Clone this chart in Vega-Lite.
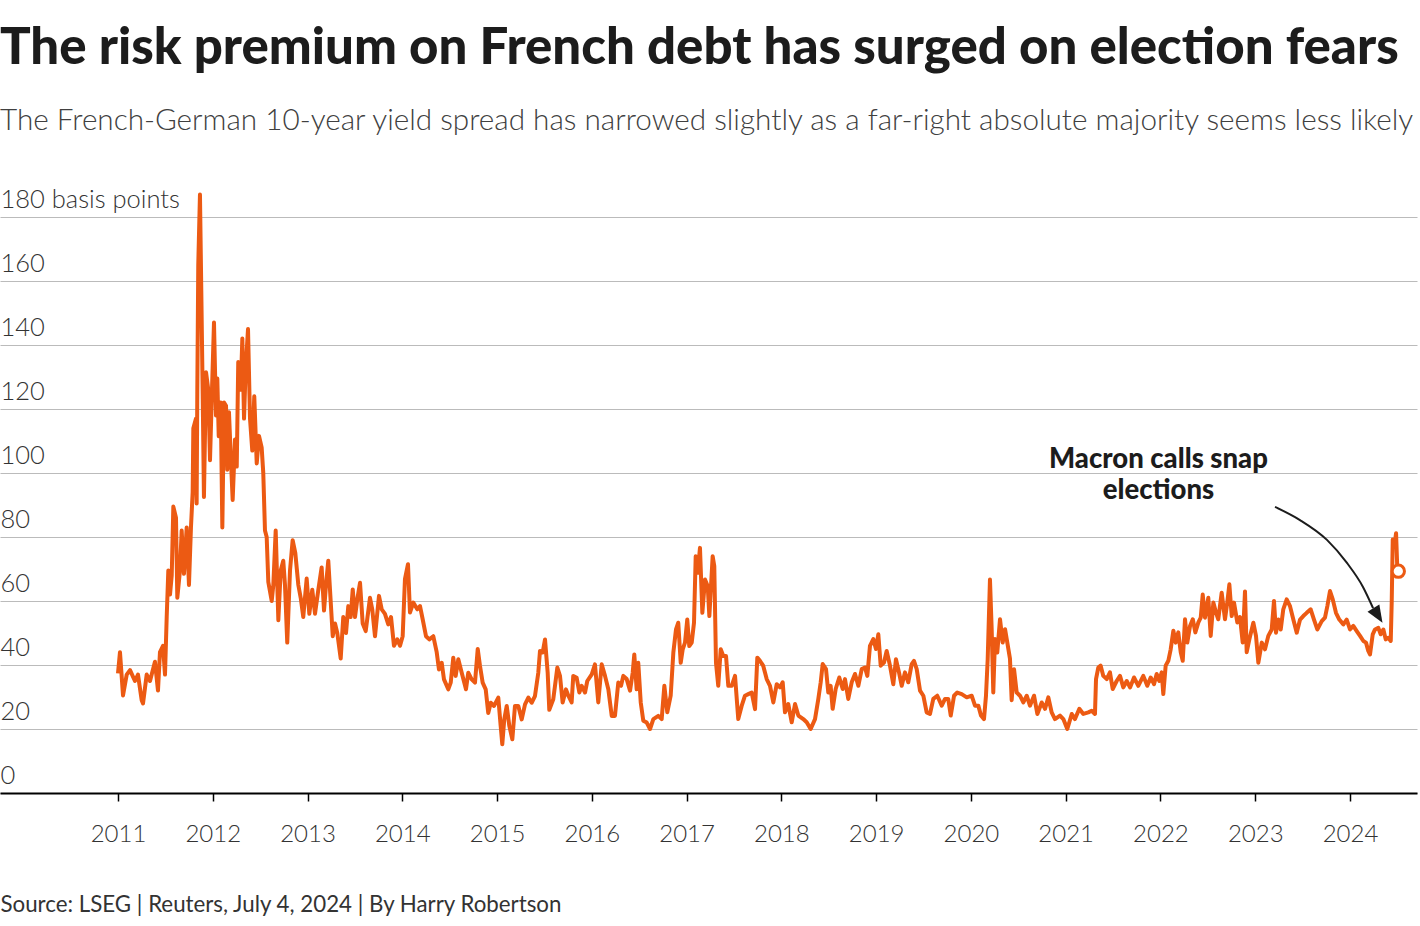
{
  "$schema": "https://vega.github.io/schema/vega-lite/v6.json",
  "width": 1417,
  "height": 576,
  "autosize": {"type": "none"},
  "padding": {"left": 0, "top": 217, "right": 3, "bottom": 133},
  "background": "white",
  "config": {"view": {"stroke": null}, "font": "Lato"},
  "title": {
    "text": "The risk premium on French debt has surged on election fears",
    "subtitle": "The French-German 10-year yield spread has narrowed slightly as a far-right absolute majority seems less likely",
    "anchor": "start",
    "frame": "group",
    "font": "Lato",
    "fontSize": 51,
    "fontWeight": 900,
    "color": "#1c1c1c",
    "subtitleFont": "Lato",
    "subtitleFontSize": 29.7,
    "subtitleFontWeight": 300,
    "subtitleColor": "#404040",
    "subtitlePadding": 32,
    "offset": 50
  },
  "datasets": {
    "spread": [
      {"year":2011.000,"bp":37.4},{"year":2011.021,"bp":44},{"year":2011.053,"bp":30.5},{"year":2011.092,"bp":37},{"year":2011.127,"bp":38.4},{"year":2011.179,"bp":35},{"year":2011.211,"bp":37},{"year":2011.250,"bp":29},{"year":2011.264,"bp":28},{"year":2011.303,"bp":37},{"year":2011.338,"bp":35},{"year":2011.390,"bp":41},{"year":2011.422,"bp":32},{"year":2011.443,"bp":44},{"year":2011.475,"bp":46},{"year":2011.496,"bp":37},{"year":2011.514,"bp":55},{"year":2011.531,"bp":69.5},{"year":2011.549,"bp":62},{"year":2011.567,"bp":68},{"year":2011.584,"bp":89.5},{"year":2011.612,"bp":86},{"year":2011.626,"bp":61},{"year":2011.654,"bp":69.5},{"year":2011.672,"bp":82},{"year":2011.696,"bp":68.5},{"year":2011.725,"bp":83},{"year":2011.749,"bp":65},{"year":2011.770,"bp":83},{"year":2011.788,"bp":94},{"year":2011.795,"bp":114},{"year":2011.823,"bp":117},{"year":2011.830,"bp":90.5},{"year":2011.837,"bp":126},{"year":2011.847,"bp":165},{"year":2011.865,"bp":187},{"year":2011.879,"bp":157},{"year":2011.894,"bp":124},{"year":2011.907,"bp":92.5},{"year":2011.929,"bp":131.5},{"year":2011.953,"bp":126},{"year":2011.971,"bp":104},{"year":2011.989,"bp":123},
      {"year":2012.013,"bp":147},{"year":2012.034,"bp":118},{"year":2012.048,"bp":129.5},{"year":2012.063,"bp":111.5},{"year":2012.084,"bp":122},{"year":2012.101,"bp":83},{"year":2012.119,"bp":122},{"year":2012.140,"bp":121},{"year":2012.153,"bp":101},{"year":2012.171,"bp":119},{"year":2012.189,"bp":106},{"year":2012.210,"bp":91.6},{"year":2012.235,"bp":110.5},{"year":2012.253,"bp":102},{"year":2012.269,"bp":134.7},{"year":2012.295,"bp":126},{"year":2012.312,"bp":142},{"year":2012.330,"bp":117},{"year":2012.347,"bp":132.6},{"year":2012.372,"bp":145},{"year":2012.393,"bp":117},{"year":2012.417,"bp":107},{"year":2012.438,"bp":124},{"year":2012.464,"bp":103},{"year":2012.488,"bp":111.6},{"year":2012.516,"bp":108},{"year":2012.533,"bp":100},{"year":2012.551,"bp":82},{"year":2012.569,"bp":80},{"year":2012.586,"bp":66},{"year":2012.622,"bp":60},{"year":2012.639,"bp":65},{"year":2012.664,"bp":82},{"year":2012.692,"bp":54},{"year":2012.717,"bp":69.5},{"year":2012.744,"bp":72.6},{"year":2012.762,"bp":65},{"year":2012.786,"bp":47},{"year":2012.815,"bp":69.5},{"year":2012.843,"bp":79},{"year":2012.871,"bp":75},{"year":2012.903,"bp":65},{"year":2012.928,"bp":61},{"year":2012.955,"bp":55},{"year":2012.991,"bp":67},
      {"year":2013.019,"bp":56},{"year":2013.050,"bp":63.5},{"year":2013.079,"bp":56},{"year":2013.114,"bp":63.5},{"year":2013.149,"bp":70.5},{"year":2013.174,"bp":57},{"year":2013.195,"bp":65},{"year":2013.219,"bp":72.6},{"year":2013.266,"bp":49},{"year":2013.290,"bp":53},{"year":2013.314,"bp":50},{"year":2013.350,"bp":42},{"year":2013.377,"bp":55},{"year":2013.406,"bp":50},{"year":2013.430,"bp":58.4},{"year":2013.455,"bp":55},{"year":2013.477,"bp":63.6},{"year":2013.501,"bp":55},{"year":2013.525,"bp":60.5},{"year":2013.554,"bp":65.7},{"year":2013.582,"bp":53},{"year":2013.614,"bp":50.6},{"year":2013.659,"bp":61},{"year":2013.683,"bp":57.4},{"year":2013.712,"bp":49},{"year":2013.754,"bp":61.6},{"year":2013.783,"bp":57.4},{"year":2013.817,"bp":56},{"year":2013.852,"bp":52.7},{"year":2013.881,"bp":55},{"year":2013.912,"bp":46},{"year":2013.947,"bp":48},{"year":2013.976,"bp":46},
      {"year":2014.004,"bp":49},{"year":2014.028,"bp":66.8},{"year":2014.060,"bp":71.5},{"year":2014.081,"bp":56.4},{"year":2014.116,"bp":59.5},{"year":2014.158,"bp":57.4},{"year":2014.187,"bp":58.4},{"year":2014.215,"bp":54.3},{"year":2014.250,"bp":49},{"year":2014.285,"bp":48},{"year":2014.327,"bp":49},{"year":2014.363,"bp":44},{"year":2014.387,"bp":38.6},{"year":2014.416,"bp":40.7},{"year":2014.440,"bp":35.5},{"year":2014.485,"bp":32.4},{"year":2014.511,"bp":34.5},{"year":2014.538,"bp":42.3},{"year":2014.563,"bp":36.6},{"year":2014.591,"bp":41.8},{"year":2014.627,"bp":37.6},{"year":2014.672,"bp":32.4},{"year":2014.696,"bp":37.6},{"year":2014.732,"bp":35.5},{"year":2014.767,"bp":34.5},{"year":2014.796,"bp":45},{"year":2014.820,"bp":39.7},{"year":2014.848,"bp":34.5},{"year":2014.880,"bp":32.4},{"year":2014.907,"bp":25},{"year":2014.933,"bp":28.2},{"year":2014.968,"bp":27.2},
      {"year":2015.013,"bp":29.8},{"year":2015.038,"bp":21},{"year":2015.055,"bp":15.2},{"year":2015.076,"bp":23},{"year":2015.102,"bp":27.2},{"year":2015.129,"bp":21},{"year":2015.161,"bp":16.8},{"year":2015.189,"bp":27.2},{"year":2015.224,"bp":27.2},{"year":2015.260,"bp":23},{"year":2015.295,"bp":27.7},{"year":2015.330,"bp":29.8},{"year":2015.365,"bp":28.2},{"year":2015.400,"bp":30.3},{"year":2015.435,"bp":37.6},{"year":2015.453,"bp":44.4},{"year":2015.481,"bp":43.9},{"year":2015.506,"bp":48},{"year":2015.534,"bp":37.6},{"year":2015.551,"bp":26},{"year":2015.593,"bp":29.3},{"year":2015.636,"bp":39.2},{"year":2015.664,"bp":36.6},{"year":2015.692,"bp":28.3},{"year":2015.727,"bp":32.4},{"year":2015.752,"bp":30.4},{"year":2015.787,"bp":28.3},{"year":2015.804,"bp":36.6},{"year":2015.840,"bp":36},{"year":2015.868,"bp":31.4},{"year":2015.893,"bp":33.5},{"year":2015.928,"bp":31.4},{"year":2015.952,"bp":35},{"year":2015.999,"bp":37.1},
      {"year":2016.033,"bp":40.2},{"year":2016.068,"bp":28.3},{"year":2016.104,"bp":40.2},{"year":2016.139,"bp":36.6},{"year":2016.174,"bp":32.4},{"year":2016.210,"bp":24.1},{"year":2016.244,"bp":24.1},{"year":2016.279,"bp":34.5},{"year":2016.308,"bp":33.5},{"year":2016.332,"bp":36.6},{"year":2016.368,"bp":35.6},{"year":2016.403,"bp":32},{"year":2016.431,"bp":37.6},{"year":2016.448,"bp":43.3},{"year":2016.473,"bp":32.4},{"year":2016.490,"bp":40.7},{"year":2016.516,"bp":28.3},{"year":2016.543,"bp":22.6},{"year":2016.579,"bp":22},{"year":2016.614,"bp":20},{"year":2016.649,"bp":23.1},{"year":2016.701,"bp":24.1},{"year":2016.737,"bp":23.1},{"year":2016.765,"bp":33.5},{"year":2016.796,"bp":25.2},{"year":2016.832,"bp":30.4},{"year":2016.860,"bp":43.9},{"year":2016.888,"bp":51.1},{"year":2016.912,"bp":53.2},{"year":2016.938,"bp":40.7},{"year":2016.959,"bp":44.9},{"year":2016.983,"bp":47},
      {"year":2017.007,"bp":54.2},{"year":2017.028,"bp":45.9},{"year":2017.054,"bp":47},{"year":2017.078,"bp":53.2},{"year":2017.096,"bp":74},{"year":2017.117,"bp":68.8},{"year":2017.141,"bp":76.6},{"year":2017.166,"bp":56.3},{"year":2017.194,"bp":66.7},{"year":2017.223,"bp":64.6},{"year":2017.240,"bp":55.3},{"year":2017.275,"bp":74},{"year":2017.292,"bp":70.9},{"year":2017.310,"bp":40.7},{"year":2017.334,"bp":33.5},{"year":2017.360,"bp":44.9},{"year":2017.387,"bp":42.8},{"year":2017.416,"bp":42.8},{"year":2017.440,"bp":33.5},{"year":2017.476,"bp":33.5},{"year":2017.511,"bp":36.6},{"year":2017.545,"bp":23.1},{"year":2017.581,"bp":27.2},{"year":2017.616,"bp":30.4},{"year":2017.651,"bp":30.9},{"year":2017.687,"bp":31.4},{"year":2017.722,"bp":26.2},{"year":2017.746,"bp":42.3},{"year":2017.774,"bp":41.3},{"year":2017.809,"bp":39.7},{"year":2017.845,"bp":35.6},{"year":2017.880,"bp":33.5},{"year":2017.915,"bp":28.3},{"year":2017.951,"bp":34},{"year":2017.985,"bp":33},
      {"year":2018.014,"bp":34.6},{"year":2018.038,"bp":25.2},{"year":2018.073,"bp":27.8},{"year":2018.109,"bp":22.1},{"year":2018.144,"bp":27.8},{"year":2018.179,"bp":24.2},{"year":2018.231,"bp":23.1},{"year":2018.267,"bp":22.1},{"year":2018.309,"bp":20},{"year":2018.355,"bp":23.1},{"year":2018.390,"bp":29.4},{"year":2018.415,"bp":34.6},{"year":2018.436,"bp":40.3},{"year":2018.471,"bp":38.7},{"year":2018.495,"bp":31.4},{"year":2018.520,"bp":33.5},{"year":2018.541,"bp":26.3},{"year":2018.573,"bp":32.5},{"year":2018.611,"bp":36.1},{"year":2018.647,"bp":32.5},{"year":2018.671,"bp":35.6},{"year":2018.706,"bp":29.4},{"year":2018.742,"bp":34.6},{"year":2018.777,"bp":37.2},{"year":2018.812,"bp":33.5},{"year":2018.848,"bp":38.7},{"year":2018.882,"bp":39.2},{"year":2018.907,"bp":36.6},{"year":2018.935,"bp":46},{"year":2018.970,"bp":48.1},{"year":2018.998,"bp":45},
      {"year":2019.023,"bp":49.6},{"year":2019.048,"bp":39.8},{"year":2019.083,"bp":40.8},{"year":2019.111,"bp":44.4},{"year":2019.146,"bp":39.8},{"year":2019.181,"bp":34},{"year":2019.209,"bp":41.8},{"year":2019.241,"bp":37.7},{"year":2019.270,"bp":33.5},{"year":2019.304,"bp":37.7},{"year":2019.339,"bp":34.6},{"year":2019.375,"bp":40.3},{"year":2019.399,"bp":41.3},{"year":2019.428,"bp":38.7},{"year":2019.463,"bp":32},{"year":2019.498,"bp":30.4},{"year":2019.533,"bp":25.2},{"year":2019.568,"bp":24.7},{"year":2019.603,"bp":29.4},{"year":2019.645,"bp":30.4},{"year":2019.692,"bp":27.3},{"year":2019.727,"bp":29.4},{"year":2019.761,"bp":29.4},{"year":2019.787,"bp":24.2},{"year":2019.822,"bp":30.4},{"year":2019.856,"bp":31.4},{"year":2019.903,"bp":30.9},{"year":2019.956,"bp":29.9},
      {"year":2020.008,"bp":30.4},{"year":2020.043,"bp":27.3},{"year":2020.078,"bp":27.3},{"year":2020.106,"bp":24.2},{"year":2020.138,"bp":23.1},{"year":2020.159,"bp":30.4},{"year":2020.177,"bp":41.8},{"year":2020.201,"bp":66.7},{"year":2020.219,"bp":51.2},{"year":2020.236,"bp":31.4},{"year":2020.254,"bp":48.1},{"year":2020.278,"bp":43.9},{"year":2020.307,"bp":54.3},{"year":2020.335,"bp":47},{"year":2020.360,"bp":51.2},{"year":2020.384,"bp":47},{"year":2020.412,"bp":42},{"year":2020.430,"bp":29},{"year":2020.455,"bp":38.7},{"year":2020.483,"bp":31.4},{"year":2020.518,"bp":30.4},{"year":2020.553,"bp":28.3},{"year":2020.589,"bp":30.4},{"year":2020.623,"bp":27.3},{"year":2020.666,"bp":30.4},{"year":2020.701,"bp":24.7},{"year":2020.747,"bp":28.3},{"year":2020.782,"bp":26.3},{"year":2020.817,"bp":29.9},{"year":2020.852,"bp":25.2},{"year":2020.887,"bp":23.1},{"year":2020.940,"bp":24.2},{"year":2020.975,"bp":23.1},
      {"year":2021.017,"bp":20},{"year":2021.064,"bp":24.7},{"year":2021.098,"bp":23.1},{"year":2021.144,"bp":26.3},{"year":2021.186,"bp":24.7},{"year":2021.239,"bp":25.2},{"year":2021.274,"bp":25.7},{"year":2021.309,"bp":24.7},{"year":2021.320,"bp":35.6},{"year":2021.344,"bp":39.2},{"year":2021.369,"bp":39.8},{"year":2021.397,"bp":36.6},{"year":2021.433,"bp":35.6},{"year":2021.467,"bp":37.7},{"year":2021.496,"bp":32.5},{"year":2021.538,"bp":35},{"year":2021.573,"bp":36.6},{"year":2021.608,"bp":33},{"year":2021.644,"bp":35},{"year":2021.679,"bp":33},{"year":2021.721,"bp":36.1},{"year":2021.766,"bp":33.5},{"year":2021.819,"bp":36.6},{"year":2021.861,"bp":33.5},{"year":2021.897,"bp":36.1},{"year":2021.932,"bp":34},{"year":2021.960,"bp":37.2},{"year":2021.988,"bp":35},
      {"year":2022.013,"bp":37.7},{"year":2022.030,"bp":30.9},{"year":2022.055,"bp":39.8},{"year":2022.083,"bp":41.3},{"year":2022.108,"bp":44.9},{"year":2022.136,"bp":50.7},{"year":2022.161,"bp":47},{"year":2022.188,"bp":50.2},{"year":2022.214,"bp":44},{"year":2022.235,"bp":41.3},{"year":2022.259,"bp":54.3},{"year":2022.283,"bp":47},{"year":2022.312,"bp":52.2},{"year":2022.341,"bp":54.3},{"year":2022.368,"bp":50.2},{"year":2022.400,"bp":53.3},{"year":2022.425,"bp":54.8},{"year":2022.446,"bp":62},{"year":2022.470,"bp":54.8},{"year":2022.505,"bp":61},{"year":2022.530,"bp":49.1},{"year":2022.558,"bp":59.5},{"year":2022.586,"bp":56.4},{"year":2022.610,"bp":54.3},{"year":2022.646,"bp":62.6},{"year":2022.681,"bp":54.3},{"year":2022.705,"bp":59.5},{"year":2022.727,"bp":65.2},{"year":2022.752,"bp":55.3},{"year":2022.776,"bp":59.5},{"year":2022.811,"bp":53.3},{"year":2022.839,"bp":55},{"year":2022.868,"bp":47},{"year":2022.892,"bp":63},{"year":2022.910,"bp":44},{"year":2022.938,"bp":48},{"year":2022.980,"bp":53.2},
      {"year":2023.008,"bp":49.1},{"year":2023.033,"bp":40.7},{"year":2023.069,"bp":47},{"year":2023.103,"bp":44.9},{"year":2023.138,"bp":49.1},{"year":2023.174,"bp":51.1},{"year":2023.198,"bp":60},{"year":2023.219,"bp":50.1},{"year":2023.244,"bp":54.2},{"year":2023.269,"bp":51.1},{"year":2023.296,"bp":57.4},{"year":2023.332,"bp":60.5},{"year":2023.367,"bp":58.4},{"year":2023.402,"bp":54.2},{"year":2023.438,"bp":50.1},{"year":2023.473,"bp":54.2},{"year":2023.507,"bp":55.3},{"year":2023.543,"bp":56.3},{"year":2023.585,"bp":57.4},{"year":2023.620,"bp":54.2},{"year":2023.655,"bp":51.1},{"year":2023.702,"bp":53.7},{"year":2023.736,"bp":54.8},{"year":2023.761,"bp":58.4},{"year":2023.789,"bp":63.1},{"year":2023.818,"bp":60.5},{"year":2023.852,"bp":56.3},{"year":2023.887,"bp":54.2},{"year":2023.930,"bp":52.7},{"year":2023.965,"bp":54.2},
      {"year":2024.000,"bp":51.1},{"year":2024.035,"bp":52.2},{"year":2024.071,"bp":50.6},{"year":2024.106,"bp":49.1},{"year":2024.141,"bp":47.5},{"year":2024.169,"bp":47},{"year":2024.193,"bp":44.4},{"year":2024.211,"bp":43.3},{"year":2024.240,"bp":49.6},{"year":2024.264,"bp":51.1},{"year":2024.299,"bp":51.6},{"year":2024.324,"bp":49.6},{"year":2024.352,"bp":51.1},{"year":2024.377,"bp":48},{"year":2024.404,"bp":48.5},{"year":2024.430,"bp":47.5},{"year":2024.440,"bp":59.4},{"year":2024.451,"bp":79.2},{"year":2024.475,"bp":78.7},{"year":2024.486,"bp":81.2},{"year":2024.499,"bp":70.3},{"year":2024.510,"bp":69.3}
    ],
    "arrow": [
      {"year":2023.209,"bp":89.4},{"year":2023.472,"bp":85.3},{"year":2023.757,"bp":79.1},{"year":2023.968,"bp":71.9},{"year":2024.137,"bp":64.4},{"year":2024.243,"bp":57.8}
    ],
    "head": [{"year":2024.295,"bp":55.5}],
    "last": [{"year":2024.510,"bp":69.3}],
    "note": [{"year":2021.979,"bp":101.6,"label":"Macron calls snap\nelections"}]
  },
  "encoding": {
    "x": {
      "field": "year",
      "type": "quantitative",
      "scale": {"domain": [2009.755, 2024.707], "nice": false, "zero": false},
      "axis": {
        "values": [2011,2012,2013,2014,2015,2016,2017,2018,2019,2020,2021,2022,2023,2024],
        "format": "d",
        "grid": false,
        "domainColor": "#000000",
        "domainWidth": 2,
        "tickColor": "#000000",
        "tickWidth": 1.5,
        "tickSize": 8,
        "labelFont": "Lato",
        "labelFontSize": 24,
        "labelFontWeight": 300,
        "labelColor": "#333333",
        "labelPadding": 21,
        "labelFlush": false,
        "title": "Source: LSEG | Reuters, July 4, 2024 | By Harry Robertson",
        "titleFont": "Lato",
        "titleFontSize": 22.3,
        "titleFontWeight": "normal",
        "titleColor": "#333333",
        "titleAnchor": "start",
        "titleAlign": "left",
        "titleBaseline": "alphabetic",
        "titleX": 0,
        "titleY": 118
      }
    },
    "y": {
      "field": "bp",
      "type": "quantitative",
      "scale": {"domain": [0, 180], "nice": false, "zero": true},
      "axis": {
        "values": [0,20,40,60,80,100,120,140,160,180],
        "domain": false,
        "ticks": false,
        "tickSize": 0,
        "grid": true,
        "gridColor": "#bbbbbb",
        "gridWidth": 1,
        "labelAlign": "left",
        "labelPadding": 0,
        "labelBaseline": "alphabetic",
        "labelOffset": -10,
        "labelFlush": false,
        "labelFont": "Lato",
        "labelFontSize": 25.5,
        "labelFontWeight": 300,
        "labelColor": "#333333",
        "labelExpr": "datum.value == 180 ? '180 basis points' : datum.label",
        "title": null
      }
    }
  },
  "layer": [
    {
      "data": {"name": "spread"},
      "mark": {"type": "line", "color": "#ec5a13", "strokeWidth": 4, "strokeJoin": "round"}
    },
    {
      "data": {"name": "arrow"},
      "mark": {"type": "line", "color": "#1c1c1c", "strokeWidth": 2, "interpolate": "monotone"}
    },
    {
      "data": {"name": "head"},
      "mark": {"type": "point", "shape": "M-0.8,-1L0.8,-1L0,1Z", "filled": true, "color": "#1c1c1c", "size": 300, "angle": -31.5, "opacity": 1}
    },
    {
      "data": {"name": "last"},
      "mark": {"type": "point", "filled": true, "fill": "#ffffff", "stroke": "#ec5a13", "strokeWidth": 3, "size": 150, "opacity": 1}
    },
    {
      "data": {"name": "note"},
      "mark": {"type": "text", "align": "center", "baseline": "alphabetic", "font": "Lato", "fontSize": 27.5, "fontWeight": 900, "color": "#1c1c1c", "lineBreak": "\n", "lineHeight": 31},
      "encoding": {"text": {"field": "label"}}
    }
  ]
}
